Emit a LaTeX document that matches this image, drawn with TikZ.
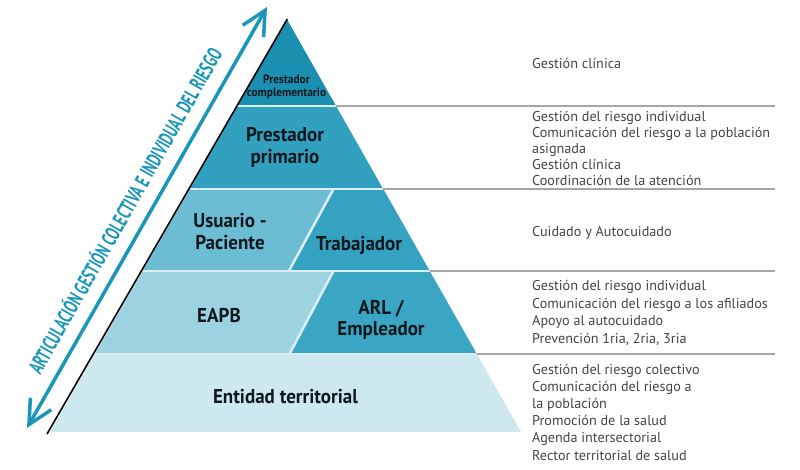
\documentclass[tikz,border=0pt]{standalone}
\usepackage{fontspec}
\setmainfont{PT Sans}
\newfontfamily\headfont{PT Sans}[FakeStretch=0.95]
\newfontfamily\sidefont{PT Sans}[FakeStretch=0.65]
\usetikzlibrary{arrows.meta}
\definecolor{cTop}{HTML}{1B8FB0}
\definecolor{cPrim}{HTML}{32A0BF}
\definecolor{cUsu}{HTML}{6CBDD3}
\definecolor{cTrab}{HTML}{36A2C1}
\definecolor{cEapb}{HTML}{9DD3E1}
\definecolor{cArl}{HTML}{3BA6C3}
\definecolor{cEnt}{HTML}{CDE8EF}
\definecolor{cSep}{HTML}{DDEEF2}
\definecolor{cGray}{HTML}{A6A6A6}
\definecolor{cArrow}{HTML}{1A96B8}
\definecolor{cHead}{HTML}{10181E}
\definecolor{cSide}{HTML}{444444}
\begin{document}
\begin{tikzpicture}[x=1pt,y=-1pt,
  head/.style={text=cHead,align=center,inner sep=0pt,font=\headfont\bfseries\fontsize{20}{21.5}\selectfont},
  smallhead/.style={text=cHead,align=center,inner sep=0pt,font=\headfont\bfseries\fontsize{12}{13.5}\selectfont},
  side/.style={text=cSide,anchor=west,align=left,inner sep=0pt,font=\fontsize{14.2}{#1}\selectfont},
  side/.default=16,
  sepline/.style={draw=cSep,line width=2.5pt},
  grayline/.style={draw=cGray,line width=2pt},
  barb/.tip={Straight Barb[length=24pt,width=24pt,line width=3.5pt]}
]
\useasboundingbox (0,0) rectangle (800,470);
% pyramid
\begin{scope}
\clip (287.3,20) -- (50,432) -- (521,432) -- cycle;
\fill[cTop]  (0,0)   rectangle (800,106);
\fill[cPrim] (0,106) rectangle (800,189);
\fill[cUsu]  (0,189) rectangle (800,271);
\fill[cTrab] (333.5,189) -- (800,189) -- (800,271) -- (288.9,271) -- cycle;
\fill[cEapb] (0,271) rectangle (800,354);
\fill[cArl]  (333.5,271) -- (800,271) -- (800,354) -- (289.5,354) -- cycle;
\fill[cEnt]  (0,354) rectangle (800,440);
\draw[sepline] (333.5,189) -- (288.9,271);
\draw[sepline] (333.5,271) -- (289.5,354);
\draw[sepline] (0,106) -- (800,106);
\draw[sepline] (0,189) -- (800,189);
\draw[sepline] (0,271) -- (800,271);
\draw[sepline] (0,354) -- (800,354);
\end{scope}
\draw[grayline] (335.9,106) -- (775,106);
\draw[grayline] (383.0,189) -- (775,189);
\draw[grayline] (429.6,271) -- (775,271);
\draw[grayline] (476.7,354) -- (775,354);
% left black edge
\draw[line width=1.6pt,black] (287.3,19) -- (47,434);
% arrow
\coordinate (arrLow) at (27,428);
\coordinate (arrHigh) at (267,7);
\draw[cArrow,line width=3.5pt,{barb}-{barb}] (arrLow) -- (arrHigh);
\node[text=cArrow,anchor=base,rotate=60.43,inner sep=0pt,font=\sidefont\bfseries\fontsize{21}{22}\selectfont] (arrtext) at (131.7,214.7) {ARTICULACIÓN GESTIÓN COLECTIVA E INDIVIDUAL DEL RIESGO};
% pyramid labels
\node[smallhead] (pcomp) at (286.5,87) {Prestador\\complementario};
\node[head] (pprim) at (285,147.5) {Prestador\\primario};
\node[head] (usu) at (230,231.5) {Usuario -\\Paciente};
\node[head] (trab) at (359,245) {Trabajador};
\node[head] (eapb) at (219,315) {EAPB};
\node[head] (arl) at (381,320) {ARL /\\Empleador};
\node[head] (ent) at (285.5,397) {Entidad territorial};
% side texts
\node[side] (s1) at (532,63) {Gestión clínica};
\node[side=16] (s2) at (532,148) {Gestión del riesgo individual\\Comunicación del riesgo a la población\\asignada\\Gestión clínica\\Coordinación de la atención};
\node[side] (s3) at (532,233) {Cuidado y Autocuidado};
\node[side=17.4] (s4) at (532,313) {Gestión del riesgo individual\\Comunicación del riesgo a los afiliados\\Apoyo al autocuidado\\Prevención 1ria, 2ria, 3ria};
\node[side=17.2] (s5) at (532,412) {Gestión del riesgo colectivo\\Comunicación del riesgo a\\la población\\Promoción de la salud\\Agenda intersectorial\\Rector territorial de salud};
\end{tikzpicture}
\end{document}
